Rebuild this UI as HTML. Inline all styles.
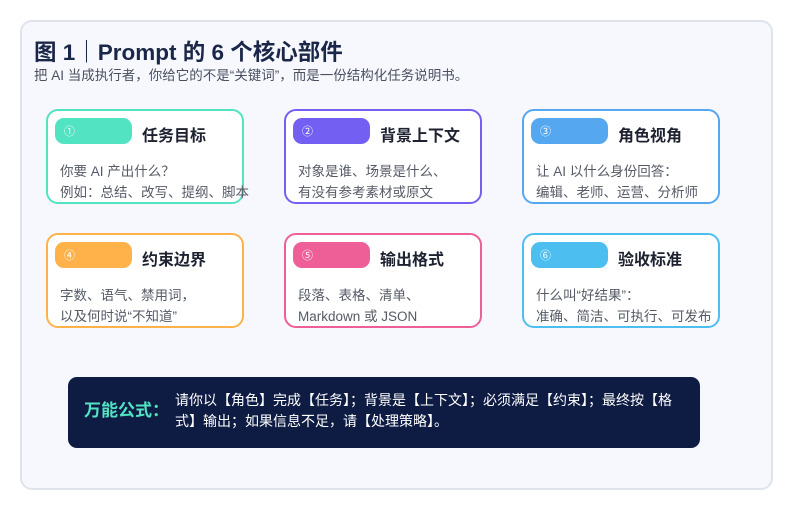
<!DOCTYPE html>
<html><head><meta charset="utf-8"><style>
*{margin:0;padding:0;box-sizing:border-box}
body{width:793px;height:510px;background:#fff;font-family:"Liberation Sans","Noto Sans CJK SC",sans-serif;position:relative;overflow:hidden}
.panel{position:absolute;left:20px;top:20px;width:753px;height:470px;background:#f7f8fd;border:2px solid #dfe3ec;border-radius:12px}
.t{position:absolute;left:34px;top:35px;font-size:22.5px;font-weight:bold;color:#1a2748;white-space:nowrap}
.s{position:absolute;left:34px;top:64px;font-size:13.5px;color:#4a5060;white-space:nowrap}
.card{position:absolute;width:198px;height:95px;background:#fff;border:2px solid;border-radius:12px}
.pill{position:absolute;left:7px;top:7px;width:77px;height:26px;border-radius:9px;color:#fff;font-size:11px;padding:5px 0 0 9px}
.ct{position:absolute;left:94px;top:11px;font-size:16px;font-weight:bold;color:#1e2230;white-space:nowrap}
.cb{position:absolute;left:12px;top:50px;font-size:13.5px;line-height:21px;color:#555a66;white-space:nowrap}
.f{position:absolute;left:68px;top:377px;width:632px;height:71px;background:#0e1c44;border-radius:9px}
.fl{position:absolute;left:16px;top:19px;font-size:17px;font-weight:bold;color:#52e3c2;white-space:nowrap}
.fr{position:absolute;left:107px;top:13px;font-size:14px;line-height:21px;color:#fff;width:515px}
</style></head><body>
<div class="panel"></div>
<div class="t">图 1｜Prompt 的 6 个核心部件</div>
<div class="s">把 AI 当成执行者，你给它的不是“关键词”，而是一份结构化任务说明书。</div>

<div class="card" style="left:46px;top:109px;border-color:#52e3c2"><div class="pill" style="background:#52e3c2">①</div><div class="ct">任务目标</div><div class="cb">你要 AI 产出什么？<br>例如：总结、改写、提纲、脚本</div></div>
<div class="card" style="left:284px;top:109px;border-color:#7360f2"><div class="pill" style="background:#7360f2">②</div><div class="ct">背景上下文</div><div class="cb">对象是谁、场景是什么、<br>有没有参考素材或原文</div></div>
<div class="card" style="left:522px;top:109px;border-color:#55a8f0"><div class="pill" style="background:#55a8f0">③</div><div class="ct">角色视角</div><div class="cb">让 AI 以什么身份回答：<br>编辑、老师、运营、分析师</div></div>
<div class="card" style="left:46px;top:233px;border-color:#ffb24a"><div class="pill" style="background:#ffb24a">④</div><div class="ct">约束边界</div><div class="cb">字数、语气、禁用词，<br>以及何时说“不知道”</div></div>
<div class="card" style="left:284px;top:233px;border-color:#ee5f98"><div class="pill" style="background:#ee5f98">⑤</div><div class="ct">输出格式</div><div class="cb">段落、表格、清单、<br>Markdown 或 JSON</div></div>
<div class="card" style="left:522px;top:233px;border-color:#4cbff0"><div class="pill" style="background:#4cbff0">⑥</div><div class="ct">验收标准</div><div class="cb">什么叫“好结果”：<br>准确、简洁、可执行、可发布</div></div>

<div class="f"><div class="fl">万能公式：</div><div class="fr">请你以【角色】完成【任务】；背景是【上下文】；必须满足【约束】；最终按【格式】输出；如果信息不足，请【处理策略】。</div></div>
</body></html>
